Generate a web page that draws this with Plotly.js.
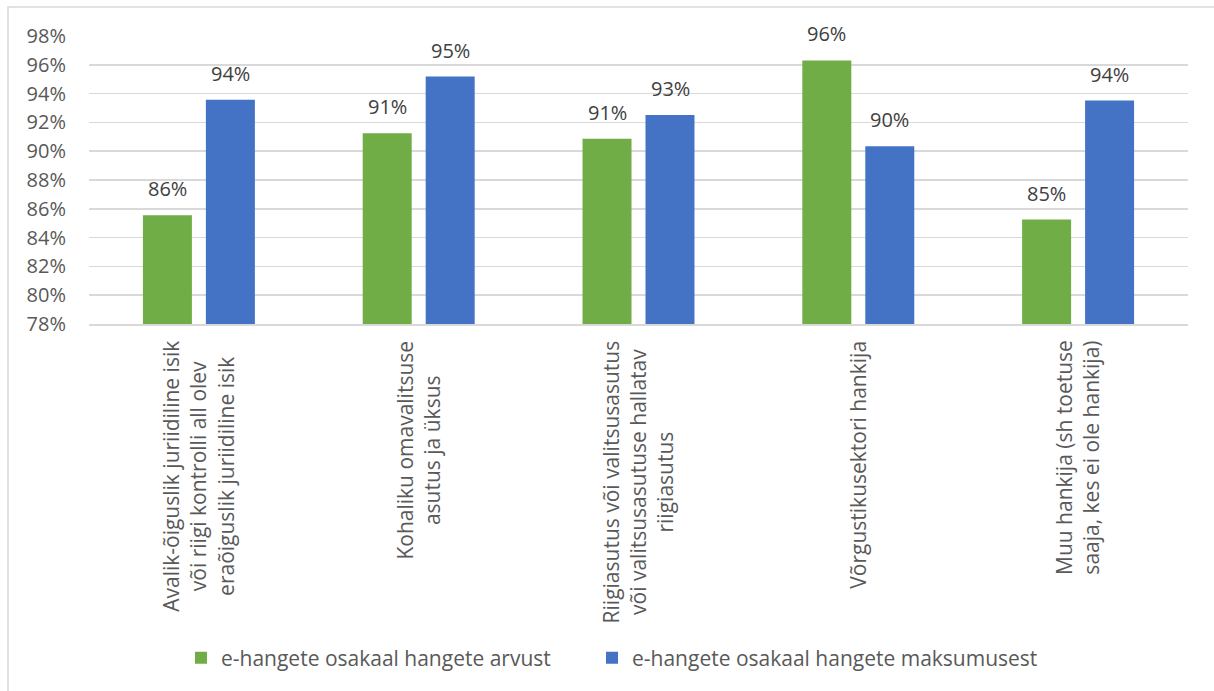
<!DOCTYPE html>
<html>
<head>
<meta charset="utf-8">
<script src="https://cdn.plot.ly/plotly-3.0.1.min.js"></script>
<style>
  html, body { margin: 0; padding: 0; background: #ffffff; }
  #chart { width: 1214px; height: 691px; }
</style>
</head>
<body>
<div id="chart"></div>
<script>
// Procurer types (each entry is one category, split into its display lines)
const categoryLines = [
  ["Avalik-õiguslik juriidiline isik", "või riigi kontrolli all olev", "eraõiguslik juriidiline isik"],
  ["Kohaliku omavalitsuse", "asutus ja üksus"],
  ["Riigiasutus või valitsusasutus", "või valitsusasutuse hallatav", "riigiasutus"],
  ["Võrgustikusektori hankija"],
  ["Muu hankija (sh toetuse", "saaja, kes ei ole hankija)"]
];
const categories = categoryLines.map(lines => lines.join(" "));

// Series names
const seriesCountName = "e-hangete osakaal hangete arvust";
const seriesValueName = "e-hangete osakaal hangete maksumusest";

// Share of e-procurements (%)
const shareByCount = [85.55, 91.25, 90.87, 96.3, 85.25];
const shareByValue = [93.58, 95.18, 92.52, 90.34, 93.52];

// Axis range and ticks (%)
const yMin = 78, yMax = 98, yStep = 2;

const GREEN = "#70AD47";
const BLUE = "#4472C4";
const AXIS_TEXT = "#595959";
const LABEL_TEXT = "#404040";
const GRID = "#d9d9d9";
const FONT = "Open Sans, sans-serif";

const traces = [
  {
    type: "bar",
    name: seriesCountName,
    x: categories,
    y: shareByCount,
    marker: { color: GREEN },
    legend: "legend",
    hoverinfo: "skip"
  },
  {
    type: "bar",
    name: seriesValueName,
    x: categories,
    y: shareByValue,
    marker: { color: BLUE },
    legend: "legend2",
    hoverinfo: "skip"
  }
];

// Value labels above the bars
const barOffset = 31.5;
const valueLabels = [];
[[shareByCount, -barOffset], [shareByValue, barOffset]].forEach(([vals, shift]) => {
  vals.forEach((v, i) => {
    valueLabels.push({
      x: categories[i], xref: "x",
      y: v, yref: "y",
      yanchor: "bottom", xanchor: "center",
      xshift: shift, yshift: 11,
      text: Math.round(v) + "%",
      showarrow: false,
      font: { family: FONT, size: 20, color: LABEL_TEXT }
    });
  });
});

// Rotated category labels under the axis
const categoryLabels = categoryLines.map((lines, i) => ({
  x: categories[i], xref: "x",
  y: -0.05, yref: "paper",
  xanchor: "center", yanchor: "top",
  textangle: -90,
  align: "center",
  text: lines.join("<br>"),
  showarrow: false,
  font: { family: FONT, size: 21, color: AXIS_TEXT }
}));

const legendStyle = {
  orientation: "h",
  xanchor: "left",
  y: -1.16, yanchor: "middle",
  font: { family: FONT, size: 21, color: AXIS_TEXT },
  bgcolor: "rgba(0,0,0,0)"
};

const layout = {
  width: 1214,
  height: 691,
  margin: { l: 89, r: 26, t: 36, b: 367 },
  paper_bgcolor: "#ffffff",
  plot_bgcolor: "#ffffff",
  font: { family: FONT, color: AXIS_TEXT, size: 20 },
  barmode: "group",
  bargap: 0.427,
  bargroupgap: 0.222,
  xaxis: {
    type: "category",
    showticklabels: false,
    showgrid: false,
    showline: true,
    linecolor: GRID,
    linewidth: 1.5,
    ticks: "",
    fixedrange: true
  },
  yaxis: {
    range: [yMin, yMax],
    tick0: yMin,
    dtick: yStep,
    ticksuffix: "%",
    showgrid: true,
    gridcolor: GRID,
    gridwidth: 1.5,
    zeroline: false,
    showline: false,
    ticks: "",
    ticklabelstandoff: 22,
    tickfont: { family: FONT, size: 20, color: AXIS_TEXT },
    fixedrange: true
  },
  showlegend: true,
  legend: Object.assign({}, legendStyle, { x: 0.0837 }),
  legend2: Object.assign({}, legendStyle, { x: 0.4577 }),
  annotations: valueLabels.concat(categoryLabels),
  shapes: [
    {
      type: "rect",
      xref: "paper", yref: "paper",
      x0: -0.0737, x1: 1.2,
      y0: 1.1007, y1: -1.4,
      line: { color: GRID, width: 1.5 },
      fillcolor: "rgba(0,0,0,0)",
      layer: "below"
    }
  ]
};

Plotly.newPlot("chart", traces, layout, { displayModeBar: false, staticPlot: true });
</script>
</body>
</html>
